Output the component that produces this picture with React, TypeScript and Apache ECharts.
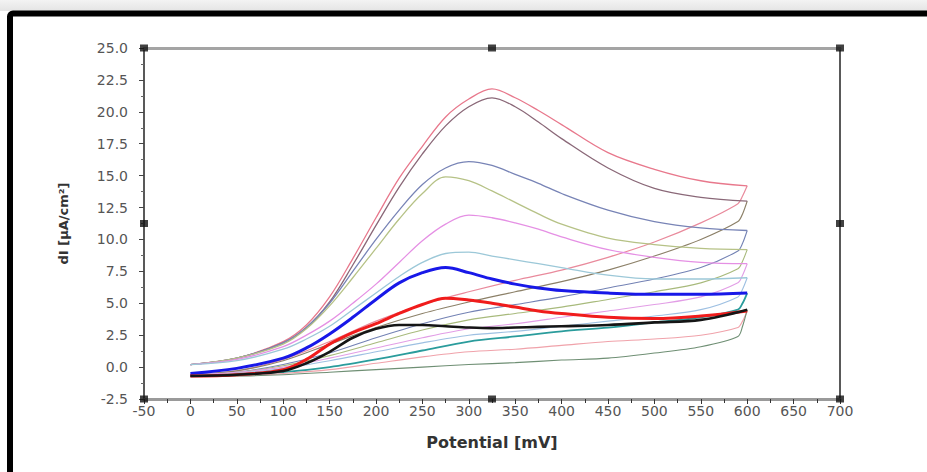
import React, { useEffect, useRef } from "react";
import * as echarts from "echarts";

// Potential grids (mV)
const potentialsFwd = [0, 50, 100, 125, 150, 175, 200, 225, 250, 275, 300, 325, 350, 375, 400, 450, 500, 550, 600];
const potentialsRev = [600, 595, 590, 550, 500, 450, 400, 350, 300, 250, 200, 150, 100, 50, 0];

// Forward (anodic) branches, dI [µA/cm²]
const fwdA = [0.2, 0.7, 2.0, 3.3, 5.5, 8.5, 11.7, 14.8, 17.3, 19.6, 21.0, 21.8, 21.1, 20.1, 19.0, 16.8, 15.5, 14.6, 14.2];
const fwdB = [0.2, 0.7, 1.9, 3.1, 5.1, 8.0, 11.1, 14.1, 16.7, 18.9, 20.4, 21.1, 20.4, 19.2, 17.9, 15.6, 14.0, 13.3, 13.0];
const fwdC = [0.2, 0.7, 1.9, 3.1, 5.0, 7.5, 10.0, 12.3, 14.3, 15.6, 16.1, 15.8, 15.1, 14.4, 13.6, 12.3, 11.4, 10.9, 10.7];
const fwdD = [0.2, 0.7, 1.8, 3.0, 4.8, 7.0, 9.3, 11.6, 13.6, 14.9, 14.6, 13.8, 12.9, 12.0, 11.2, 10.1, 9.6, 9.3, 9.2];
const fwdE = [0.2, 0.6, 1.6, 2.5, 3.6, 5.0, 6.5, 8.2, 9.9, 11.2, 11.9, 11.7, 11.3, 10.8, 10.2, 9.2, 8.6, 8.2, 8.1];
const fwdF = [0.2, 0.5, 1.4, 2.2, 3.2, 4.5, 5.8, 7.1, 8.2, 8.9, 9.0, 8.7, 8.4, 8.1, 7.8, 7.2, 6.9, 6.9, 7.0];
const fwdG = [-0.5, -0.1, 0.7, 1.5, 2.6, 3.9, 5.3, 6.6, 7.4, 7.8, 7.4, 6.9, 6.5, 6.2, 6.0, 5.8, 5.7, 5.7, 5.8];
const fwdH = [-0.7, -0.6, -0.2, 0.6, 1.8, 2.7, 3.4, 4.2, 4.9, 5.4, 5.25, 5.0, 4.7, 4.4, 4.2, 3.9, 3.8, 4.0, 4.4];
const fwdI = [-0.7, -0.6, -0.3, 0.3, 1.2, 2.3, 3.0, 3.3, 3.3, 3.2, 3.1, 3.05, 3.1, 3.15, 3.2, 3.3, 3.5, 3.7, 4.5];

// Reverse (return) branches
const revA = [14.2, 13.4, 12.8, 11.3, 9.8, 8.6, 7.6, 6.8, 5.9, 4.9, 3.6, 2.0, 0.6, -0.3, -0.6];
const revB = [13.0, 12.0, 11.4, 10.0, 8.7, 7.6, 6.7, 5.9, 5.1, 4.2, 3.1, 1.8, 0.5, -0.3, -0.6];
const revC = [10.7, 9.7, 9.1, 7.8, 6.9, 6.2, 5.5, 4.9, 4.3, 3.4, 2.3, 1.1, 0.2, -0.4, -0.6];
const revD = [9.2, 8.3, 7.7, 6.6, 5.9, 5.3, 4.7, 4.2, 3.7, 2.9, 1.9, 0.9, 0.1, -0.4, -0.6];
const revE = [8.1, 7.2, 6.6, 5.5, 4.9, 4.4, 3.9, 3.4, 3.0, 2.3, 1.5, 0.7, 0.0, -0.4, -0.6];
const revF = [7.0, 6.1, 5.5, 4.5, 4.0, 3.6, 3.2, 2.8, 2.5, 1.9, 1.2, 0.5, -0.1, -0.5, -0.7];
const revG = [5.8, 5.0, 4.5, 3.9, 3.5, 3.1, 2.8, 2.4, 2.0, 1.3, 0.6, 0.0, -0.4, -0.6, -0.7];
const revH = [4.4, 3.6, 3.1, 2.5, 2.2, 2.0, 1.7, 1.4, 1.2, 0.8, 0.3, -0.2, -0.5, -0.7, -0.7];
const revI = [4.5, 3.2, 2.4, 1.6, 1.1, 0.7, 0.55, 0.35, 0.2, 0.0, -0.2, -0.4, -0.6, -0.7, -0.7];

// Axis limits
const xMin = -50;
const xMax = 700;
const xStep = 50;
const yMin = -2.5;
const yMax = 25;
const yStep = 2.5;

const FONT = "'DejaVu Sans', 'Liberation Sans', Arial, sans-serif";

const curves = [
  { name: "A", fwd: fwdA, rev: revA, fc: "#e8788c", rc: "#e98a9c", w: 1.3, rw: 1.2 },
  { name: "B", fwd: fwdB, rev: revB, fc: "#8a6878", rc: "#8c8068", w: 1.3, rw: 1.2 },
  { name: "C", fwd: fwdC, rev: revC, fc: "#7884b6", rc: "#7382b4", w: 1.3, rw: 1.1 },
  { name: "D", fwd: fwdD, rev: revD, fc: "#b6c286", rc: "#a8ba7c", w: 1.3, rw: 1.1 },
  { name: "E", fwd: fwdE, rev: revE, fc: "#e590e4", rc: "#e29ee6", w: 1.3, rw: 1.1 },
  { name: "F", fwd: fwdF, rev: revF, fc: "#9cc8d8", rc: "#9ec0e2", w: 1.3, rw: 1.1 },
  { name: "G", fwd: fwdG, rev: revG, fc: "#1818e8", rc: "#2a9c9c", w: 3, rw: 1.8 },
  { name: "H", fwd: fwdH, rev: revH, fc: "#f01c1c", rc: "#f0a2aa", w: 3, rw: 1.1 },
  { name: "I", fwd: fwdI, rev: revI, fc: "#151515", rc: "#6f8f74", w: 2.6, rw: 1.1 },
];

export default function App() {
  const ref = useRef<HTMLDivElement>(null);

  useEffect(() => {
    if (!ref.current) return;
    const chart = echarts.init(ref.current, undefined, { renderer: "svg" });

    const series: any[] = [];
    curves.forEach((c) => {
      series.push({
        name: c.name + " reverse",
        type: "line",
        xAxisIndex: 0,
        yAxisIndex: 0,
        data: potentialsRev.map((x, i) => [x, c.rev[i]]),
        showSymbol: false,
        smooth: 0.3,
        lineStyle: { color: c.rc, width: c.rw },
        z: 2,
      });
    });
    curves.forEach((c) => {
      series.push({
        name: c.name + " forward",
        type: "line",
        xAxisIndex: 0,
        yAxisIndex: 0,
        data: potentialsFwd.map((x, i) => [x, c.fwd[i]]),
        showSymbol: false,
        smooth: 0.35,
        lineStyle: { color: c.fc, width: c.w },
        z: c.w > 2 ? 4 : 3,
      });
    });

    const midX = (xMin + xMax) / 2;
    const midY = (yMin + yMax) / 2;
    series.push({
      name: "handles",
      type: "scatter",
      xAxisIndex: 0,
      yAxisIndex: 0,
      symbol: "rect",
      symbolSize: [8, 7],
      itemStyle: { color: "#111" },
      clip: false,
      z: 10,
      data: [
        [xMin, yMax], [midX, yMax], [xMax, yMax],
        [xMin, midY], [xMax, midY],
        [xMin, yMin], [midX, yMin], [xMax, yMin],
      ],
    });

    chart.setOption({
      animation: false,
      backgroundColor: "#ffffff",
      grid: { left: 144, right: 87, top: 48, bottom: 73, containLabel: false },
      graphic: [
        {
          type: "rect",
          shape: { x: 0, y: 0, width: 927, height: 11 },
          style: {
            fill: new echarts.graphic.LinearGradient(0, 0, 0, 1, [
              { offset: 0, color: "#f3f3f3" },
              { offset: 1, color: "#e4e4e4" },
            ]),
          },
          z: 0,
        },
        {
          type: "rect",
          shape: { x: 10, y: 13.5, width: 1000, height: 1000, r: 3 },
          style: { fill: "none", stroke: "#000", lineWidth: 6 },
          z: 0,
        },
      ],
      xAxis: [
        {
          type: "value",
          position: "bottom",
          min: xMin,
          max: xMax,
          interval: xStep,
          axisLine: { show: true, onZero: false, lineStyle: { color: "#9a9a9a", width: 3 } },
          axisTick: { show: true, length: 5, lineStyle: { color: "#333", width: 1 } },
          minorTick: { show: true, splitNumber: 2, length: 4, lineStyle: { color: "#333", width: 1 } },
          splitLine: { show: false },
          axisLabel: { color: "#555", fontSize: 14, fontFamily: FONT, margin: 5 },
          name: "Potential [mV]",
          nameLocation: "middle",
          nameGap: 35,
          nameTextStyle: { color: "#333", fontSize: 16, fontWeight: "bold", fontFamily: FONT },
        },
        {
          type: "value",
          position: "top",
          min: xMin,
          max: xMax,
          interval: xStep,
          axisLine: { show: true, onZero: false, lineStyle: { color: "#a4a4a4", width: 3 } },
          axisTick: { show: false },
          axisLabel: { show: false },
          splitLine: { show: false },
        },
      ],
      yAxis: [
        {
          type: "value",
          position: "left",
          min: yMin,
          max: yMax,
          interval: yStep,
          axisLine: { show: true, onZero: false, lineStyle: { color: "#222", width: 1.5 } },
          axisTick: { show: true, length: 5, lineStyle: { color: "#444", width: 1 } },
          minorTick: { show: true, splitNumber: 2, length: 3, lineStyle: { color: "#666", width: 1 } },
          splitLine: { show: false },
          axisLabel: {
            color: "#555",
            fontSize: 14,
            fontFamily: FONT,
            margin: 16,
            formatter: (v: number) => v.toFixed(1),
          },
          name: "dI [μA/cm²]",
          nameLocation: "middle",
          nameGap: 74,
          nameRotate: 90,
          nameTextStyle: { color: "#333", fontSize: 13, fontWeight: "bold", fontFamily: FONT },
        },
        {
          type: "value",
          position: "right",
          min: yMin,
          max: yMax,
          interval: yStep,
          axisLine: { show: true, onZero: false, lineStyle: { color: "#222", width: 1.5 } },
          axisTick: { show: false },
          axisLabel: { show: false },
          splitLine: { show: false },
        },
      ],
      series,
    });

    return () => {
      chart.dispose();
    };
  }, []);

  return (
    <div
      ref={ref}
      style={{ position: "fixed", left: 0, top: 0, width: 927, height: 472, background: "#fff" }}
    />
  );
}
